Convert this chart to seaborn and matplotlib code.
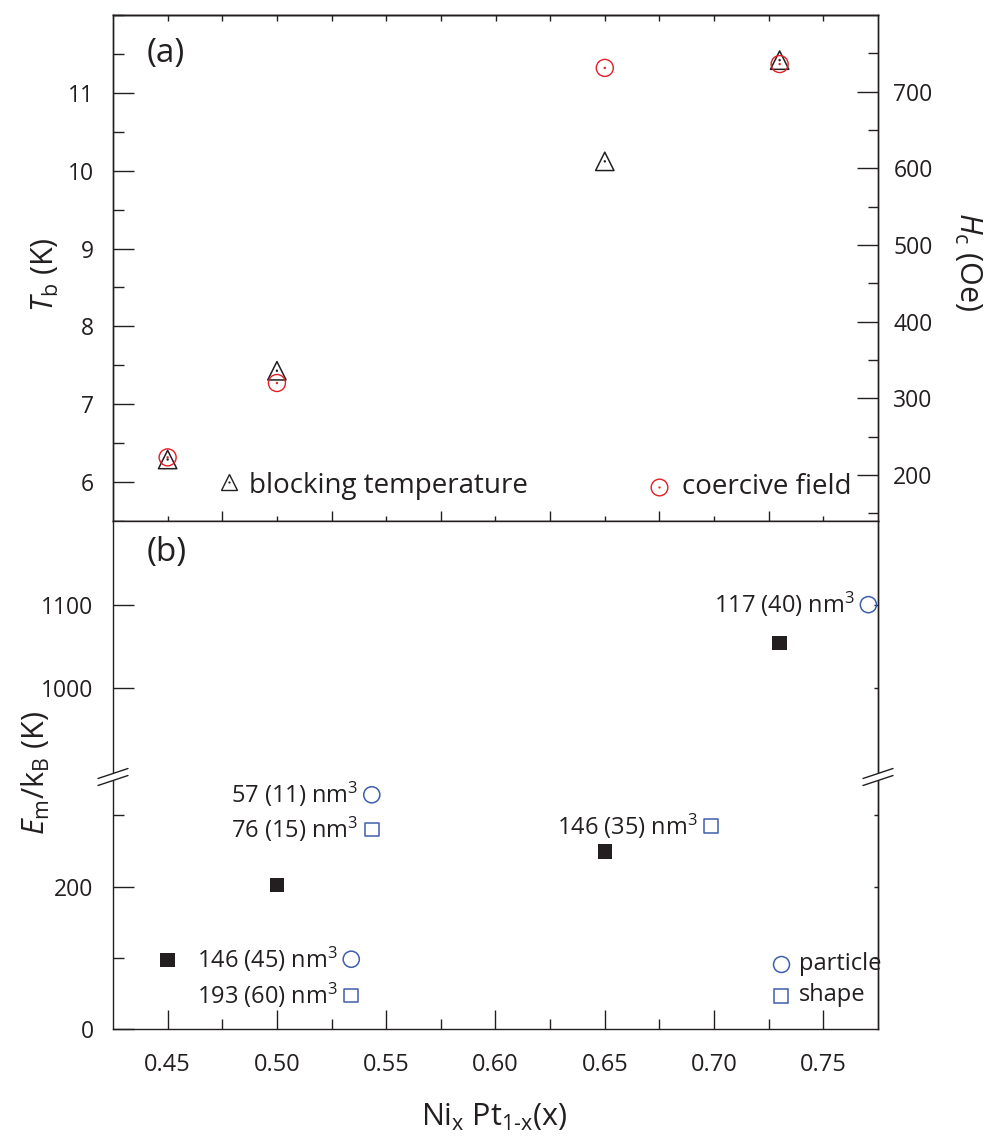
import numpy as np
import matplotlib
matplotlib.use("Agg")
import matplotlib.pyplot as plt
import seaborn as sns
from matplotlib.lines import Line2D
from matplotlib.patches import Polygon

# ---------------- data ----------------
x_comp = [0.45, 0.50, 0.65, 0.73]          # Ni fraction x
tb_K = [6.29, 7.43, 10.12, 11.42]          # blocking temperature (K)
hc_Oe = [223, 320, 731, 736]               # coercive field (Oe)
em_K = [97, 202, 249, 1054]                # E_m / k_B (K)

particle_x = [0.534, 0.5434, 0.7706]
particle_y = [98, 329, 1100]
particle_lbl = ["146 (45) nm$^3$", "57 (11) nm$^3$", "117 (40) nm$^3$"]
shape_x = [0.534, 0.5434, 0.6987]
shape_y = [47, 280, 285]
shape_lbl = ["193 (60) nm$^3$", "76 (15) nm$^3$", "146 (35) nm$^3$"]

x_ticks = [0.45, 0.50, 0.55, 0.60, 0.65, 0.70, 0.75]
x_tick_labels = ["0.45", "0.50", "0.55", "0.60", "0.65", "0.70", "0.75"]
tb_ticks = [6, 7, 8, 9, 10, 11]
hc_ticks = [200, 300, 400, 500, 600, 700]
em_low_ticks = [0, 200]
em_low_minor = [100, 300]
em_high_ticks = [1000, 1100]

# ---------------- style ----------------
ink = "#231f20"
red = "#e31e24"
blue = "#3f5fae"

sns.set_style("ticks")
plt.rcParams["font.family"] = ["Open Sans", "DejaVu Sans"]
plt.rcParams.update({
    "mathtext.fontset": "custom",
    "mathtext.rm": "Open Sans",
    "mathtext.it": "Open Sans:italic",
    "mathtext.bf": "Open Sans:bold",
    "mathtext.sf": "Open Sans",
    "axes.edgecolor": ink,
    "axes.linewidth": 1.0,
    "xtick.color": ink,
    "ytick.color": ink,
    "text.color": ink,
    "axes.labelcolor": ink,
})

W, H = 994, 1142
xl, xr = 113, 878
yA_top, yA_bot = 15, 521
y_break, yB_bot = 777, 1029


def rect(top, bot):
    return [xl / W, 1 - bot / H, (xr - xl) / W, (bot - top) / H]


fig = plt.figure(figsize=(W / 100, H / 100), dpi=100)
axA = fig.add_axes(rect(yA_top, yA_bot))
axA2 = axA.twinx()
axBh = fig.add_axes(rect(yA_bot, y_break))
axBl = fig.add_axes(rect(y_break, yB_bot))

XLIM = (0.425, 0.775)
TICK_FS = 16.5

# ---------------- panel (a) ----------------
sns.scatterplot(x=x_comp, y=tb_K, ax=axA, marker="^", s=175, color=ink,
                facecolor="none", edgecolor=ink, linewidth=1.1, zorder=3)
sns.scatterplot(x=x_comp, y=tb_K, ax=axA, marker="o", s=3, color=ink,
                edgecolor="none", linewidth=0, zorder=3)
sns.scatterplot(x=x_comp, y=hc_Oe, ax=axA2, marker="o", s=150, color=red,
                facecolor="none", edgecolor=red, linewidth=1.0, zorder=3)
sns.scatterplot(x=x_comp, y=hc_Oe, ax=axA2, marker="o", s=3, color=red,
                edgecolor="none", linewidth=0, zorder=3)

axA.set_xlim(*XLIM)
axA.set_ylim(5.5, 12.0)
axA2.set_ylim(140, 800)

axA.set_yticks(tb_ticks)
axA.set_yticks(np.arange(5.5, 12.01, 0.5), minor=True)
axA.tick_params(axis="y", which="major", direction="in", length=15, width=1,
                pad=14, labelsize=TICK_FS, left=True, right=False)
axA.tick_params(axis="y", which="minor", direction="in", length=8, width=1,
                left=True, right=False)
axA.set_xticks(np.arange(0.475, 0.74, 0.05))
axA.set_xticks(np.arange(0.45, 0.76, 0.05), minor=True)
axA.tick_params(axis="x", which="major", direction="in", length=7, width=1,
                bottom=True, top=False, labelbottom=False)
axA.tick_params(axis="x", which="minor", direction="in", length=3.5, width=1,
                bottom=True, top=False)
secA = axA.secondary_xaxis("top")
secA.set_xticks(np.arange(0.45, 0.751, 0.025))
secA.tick_params(axis="x", which="both", direction="in", length=4, width=1,
                 labeltop=False, labelbottom=False)

axA2.set_yticks(hc_ticks)
axA2.set_yticks(np.arange(150, 800, 50), minor=True)
axA2.tick_params(axis="y", which="major", direction="in", length=15, width=1,
                 pad=11, labelsize=TICK_FS, right=True, left=False,
                 labelright=True, labelleft=False)
axA2.tick_params(axis="y", which="minor", direction="in", length=7, width=1,
                 right=True, left=False)

axA.set_ylabel(r"$T_\mathrm{b}$ (K)", fontsize=22, va="center")
axA.yaxis.set_label_coords((45 - xl) / (xr - xl), (yA_bot - 275) / (yA_bot - yA_top))
axA2.set_ylabel(r"$H_\mathrm{c}$ (Oe)", fontsize=22, rotation=270, va="center")
axA2.yaxis.set_label_coords((968 - xl) / (xr - xl), (yA_bot - 262) / (yA_bot - yA_top))

axA.text(0.0445, 0.923, "(a)", transform=axA.transAxes, ha="left", va="center",
         fontsize=24)

# legend of panel (a)
axA.plot([0.478], [6.0], marker="^", ms=12, mfc="none", mec=ink, mew=1.0, ls="none")
axA.plot([0.478], [6.0], marker="o", ms=1.6, mfc=ink, mec="none", ls="none")
axA.annotate("blocking temperature", xy=(0.478, 6.0), xytext=(14.5, -8),
             textcoords="offset points", ha="left", va="baseline", fontsize=20)
axA2.plot([0.675], [184], marker="o", ms=12, mfc="none", mec=red, mew=1.0, ls="none")
axA2.plot([0.675], [184], marker="o", ms=1.6, mfc=red, mec="none", ls="none")
axA2.annotate("coercive field", xy=(0.675, 184), xytext=(16, -4.5),
              textcoords="offset points", ha="left", va="baseline", fontsize=20)

# ---------------- panel (b), broken axis ----------------
for ax in (axBh, axBl):
    sns.scatterplot(x=x_comp, y=em_K, ax=ax, marker="s", s=110, color=ink,
                    edgecolor="none", linewidth=0, zorder=3)
    sns.scatterplot(x=particle_x, y=particle_y, ax=ax, marker="o", s=135,
                    color=blue, facecolor="none", edgecolor=blue, linewidth=1.1,
                    zorder=3)
    sns.scatterplot(x=shape_x, y=shape_y, ax=ax, marker="s", s=95,
                    color=blue, facecolor="none", edgecolor=blue, linewidth=1.1,
                    zorder=3)
    ax.set_xlim(*XLIM)

axBh.set_ylim(894, 1200)
axBl.set_ylim(0, 354)

for xs, ys, labels in ((particle_x, particle_y, particle_lbl),
                       (shape_x, shape_y, shape_lbl)):
    for xv, yv, lb in zip(xs, ys, labels):
        ax = axBh if yv > 600 else axBl
        ax.annotate(lb, xy=(xv, yv), xytext=(-10, -6), textcoords="offset points",
                    ha="right", va="baseline", fontsize=17)

# legend of panel (b)
axBl.plot([0.7306], [91], marker="o", ms=11.5, mfc="none", mec=blue, mew=1.1, ls="none")
axBl.plot([0.7306], [47], marker="s", ms=9.8, mfc="none", mec=blue, mew=1.1, ls="none")
axBl.annotate("particle", xy=(0.7306, 91), xytext=(13, -4), textcoords="offset points",
              ha="left", va="baseline", fontsize=17)
axBl.annotate("shape", xy=(0.7306, 47), xytext=(13, -4), textcoords="offset points",
              ha="left", va="baseline", fontsize=17)

axBh.spines["bottom"].set_visible(False)
axBl.spines["top"].set_visible(False)

axBh.set_yticks(em_high_ticks)
axBh.tick_params(axis="y", which="major", direction="in", length=15, width=1,
                 pad=14, labelsize=TICK_FS, left=True, right=False)
axBh.tick_params(axis="x", which="both", bottom=False, top=False, labelbottom=False)
secBh = axBh.secondary_yaxis("right")
secBh.set_yticks(em_high_ticks)
secBh.tick_params(axis="y", direction="in", length=3, width=1, labelright=False)

axBl.set_yticks(em_low_ticks)
axBl.set_yticks(em_low_minor, minor=True)
axBl.tick_params(axis="y", which="major", direction="in", length=15, width=1,
                 pad=14, labelsize=TICK_FS, left=True, right=False)
axBl.tick_params(axis="y", which="minor", direction="in", length=8, width=1,
                 left=True, right=False)
secBl = axBl.secondary_yaxis("right")
secBl.set_yticks([100, 200, 300])
secBl.tick_params(axis="y", direction="in", length=3, width=1, labelright=False)

axBl.set_xticks(x_ticks, labels=x_tick_labels)
axBl.set_xticks(np.arange(0.475, 0.74, 0.05), minor=True)
axBl.tick_params(axis="x", which="major", direction="in", length=14, width=1,
                 pad=17, labelsize=17, bottom=True, top=False)
axBl.tick_params(axis="x", which="minor", direction="in", length=7, width=1,
                 bottom=True, top=False)

axBl.set_xlabel(r"Ni$_\mathrm{x}$ Pt$_\text{1-x}$(x)", fontsize=22, va="center")
axBl.xaxis.set_label_coords((494 - xl) / (xr - xl), (yB_bot - 1117) / (yB_bot - y_break))

fig.text(36 / W, 1 - 773 / H, r"$E_\mathrm{m}$/k$_\mathrm{B}$ (K)", rotation=90,
         ha="center", va="center", fontsize=22)

axBh.text(0.0445, 0.878, "(b)", transform=axBh.transAxes, ha="left", va="center",
          fontsize=24)

# break marks on both spines
for xc in (xl, xr):
    dx, dy, gap = 15, 5, 3.5
    poly = Polygon([[(xc - 4) / W, 1 - (y_break + gap + 1.3) / H],
                    [(xc + 4) / W, 1 - (y_break + gap - 1.3) / H],
                    [(xc + 4) / W, 1 - (y_break - gap - 1.3) / H],
                    [(xc - 4) / W, 1 - (y_break - gap + 1.3) / H]],
                   closed=True, transform=fig.transFigure, fc="white", ec="none",
                   zorder=5)
    fig.add_artist(poly)
    for off in (gap, -gap):
        yc = y_break + off
        fig.add_artist(Line2D([(xc - dx) / W, (xc + dx) / W],
                              [1 - (yc + dy) / H, 1 - (yc - dy) / H],
                              transform=fig.transFigure, color=ink, lw=1.0,
                              zorder=6))

fig.savefig("out.png", dpi=100)
